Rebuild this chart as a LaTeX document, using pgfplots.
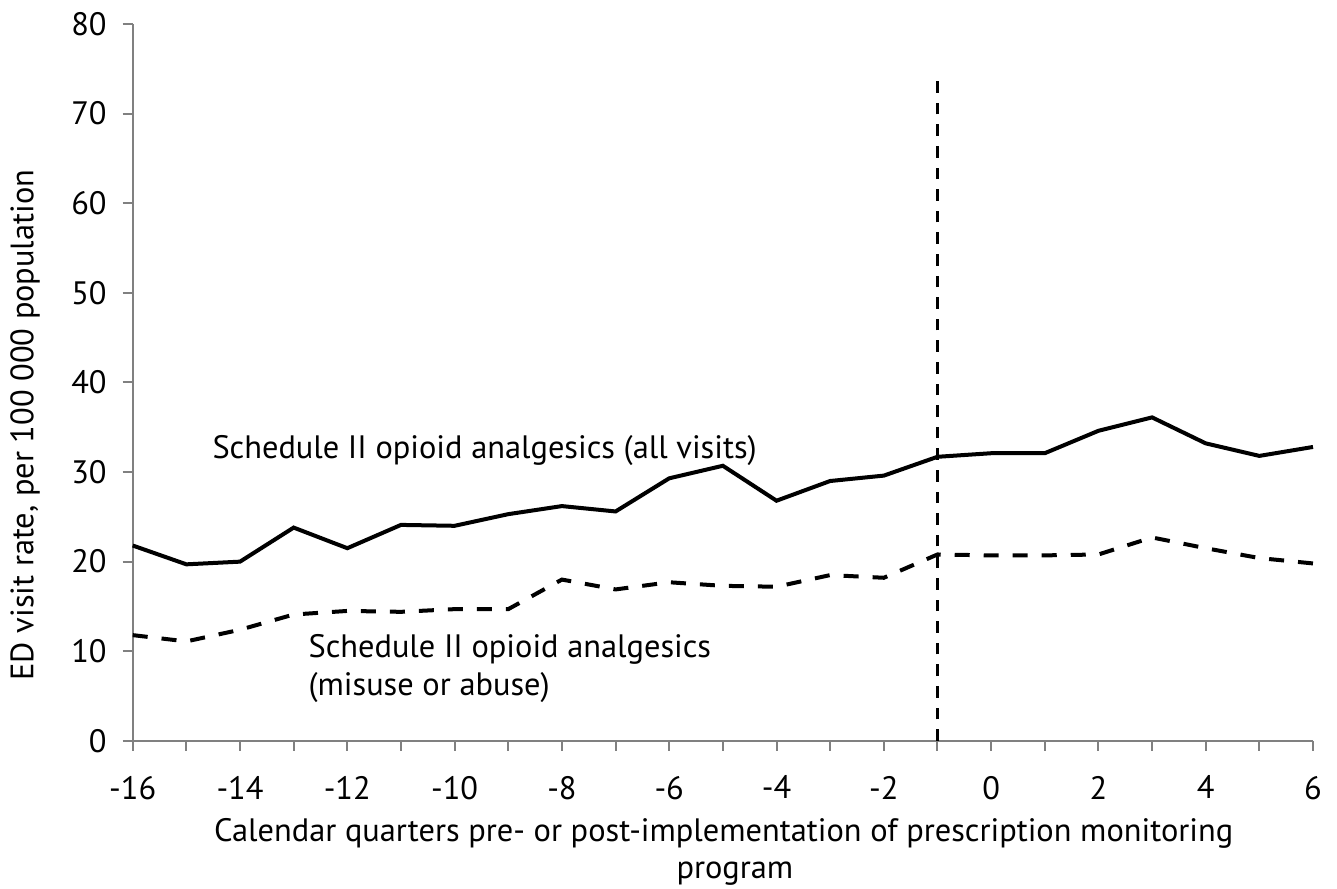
\documentclass[border=0pt]{standalone}
\usepackage{fontspec}
\setmainfont{PT Sans}
\usepackage{pgfplots}
\pgfplotsset{compat=1.18}
\begin{document}
\begin{tikzpicture}
\useasboundingbox (-66.35pt,-73.65pt) rectangle (602pt,370.35pt);
\begin{axis}[
  at={(0,0)}, anchor=south west,
  scale only axis, width=590pt, height=358.35pt,
  xmin=-16, xmax=6, ymin=0, ymax=80,
  axis x line*=bottom, axis y line*=left,
  axis line style={draw=black!50, line width=1pt, -},
  xtick={-16,-14,...,6},
  minor xtick={-15,-13,...,5},
  ytick={0,10,...,80},
  tick align=outside,
  major tick length=5pt, minor tick length=5pt,
  tick style={draw=black!50, line width=1pt},
  xticklabels={-16,-14,-12,-10,-8,-6,-4,-2,0,2,4,6},
  yticklabels={0,10,20,30,40,50,60,70,80},
  ticklabel style={font=\fontsize{16.2}{19}\selectfont},
  xticklabel style={yshift=-9pt},
  yticklabel style={xshift=-4.5pt},
  clip=false,
]
\addplot[black, line width=2pt] coordinates {
(-16,21.8) (-15,19.7) (-14,20.0) (-13,23.8) (-12,21.5) (-11,24.1) (-10,24.0) (-9,25.3)
(-8,26.2) (-7,25.6) (-6,29.3) (-5,30.7) (-4,26.8) (-3,29.0) (-2,29.6) (-1,31.7)
(0,32.1) (1,32.1) (2,34.6) (3,36.1) (4,33.2) (5,31.8) (6,32.8)};
\addplot[black, line width=2pt, dash pattern=on 7.5pt off 7pt] coordinates {
(-16,11.8) (-15,11.1) (-14,12.4) (-13,14.1) (-12,14.5) (-11,14.4) (-10,14.7) (-9,14.7)
(-8,18.0) (-7,16.9) (-6,17.7) (-5,17.3) (-4,17.2) (-3,18.5) (-2,18.2) (-1,20.8)
(0,20.7) (1,20.7) (2,20.8) (3,22.7) (4,21.5) (5,20.4) (6,19.8)};
\addplot[black, line width=1.4pt, dash pattern=on 5.8pt off 5pt] coordinates {(-1,0) (-1,74.6)};
\node[anchor=base west, inner sep=0pt, font=\fontsize{16.2}{19}\selectfont] at (axis cs:-14.52,31.55) {Schedule II opioid analgesics (all visits)};
\node[anchor=base west, inner sep=0pt, font=\fontsize{16.2}{19}\selectfont] at (axis cs:-12.73,9.34) {Schedule II opioid analgesics};
\node[anchor=base west, inner sep=0pt, font=\fontsize{16.2}{19}\selectfont] at (axis cs:-12.73,5.10) {(misuse or abuse)};
\end{axis}
\node[rotate=90, font=\fontsize{16.2}{19}\selectfont] at (-53.85pt,157.85pt) {ED visit rate, per 100 000 population};
\node[anchor=base, inner sep=0pt, font=\fontsize{16.2}{19}\selectfont] at (295.4pt,-50.5pt) {Calendar quarters pre- or post-implementation of prescription monitoring};
\node[anchor=base, inner sep=0pt, font=\fontsize{16.2}{19}\selectfont] at (301pt,-68.65pt) {program};
\end{tikzpicture}
\end{document}
